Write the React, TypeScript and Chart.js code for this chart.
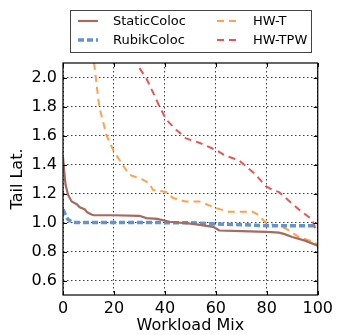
import React, { useEffect, useRef } from "react";
import { Chart, registerables } from "chart.js";

Chart.register(...registerables);

const seriesNames = ["StaticColoc", "RubikColoc", "HW-T", "HW-TPW"];

const staticX = [0, 0.5, 1, 2, 3.4, 4.5, 5.5, 6.6, 8.6, 9.5, 11.2, 12, 20, 30, 32.7, 37, 41.8, 45, 51, 55, 58.9, 60, 61.3, 70, 80, 84.8, 87, 90, 95, 100];
const staticY = [1.45, 1.35, 1.26, 1.19, 1.145, 1.135, 1.125, 1.105, 1.09, 1.07, 1.055, 1.05, 1.05, 1.046, 1.03, 1.025, 1.005, 1.0, 0.99, 0.98, 0.97, 0.96, 0.945, 0.94, 0.935, 0.93, 0.92, 0.9, 0.875, 0.84];

const rubikX = [0, 1, 2, 3.4, 5, 10, 30, 50, 60, 70, 80, 90, 100];
const rubikY = [1.09, 1.05, 1.02, 1.005, 1.0, 1.0, 1.0, 0.998, 0.99, 0.985, 0.978, 0.977, 0.977];

const hwtX = [12.2, 14.2, 17.1, 19.7, 23.3, 26, 31.4, 33.9, 35.3, 40.5, 43.1, 48, 53.5, 60, 65, 74.4, 76.5, 79.6, 87.4, 92.6, 97.8, 100];
const hwtY = [2.1, 1.8, 1.6, 1.5, 1.4, 1.33, 1.295, 1.27, 1.225, 1.21, 1.17, 1.145, 1.145, 1.1, 1.074, 1.074, 1.055, 1.0, 0.96, 0.9, 0.87, 0.85];

const hwtpwX = [30, 32.7, 37.9, 40.5, 44.4, 48.3, 53.5, 60, 63.9, 69, 71.7, 75.6, 79.6, 82.2, 84.8, 87.4, 92.6, 97.8, 99, 100];
const hwtpwY = [2.065, 1.995, 1.8, 1.71, 1.64, 1.58, 1.55, 1.5, 1.46, 1.43, 1.39, 1.33, 1.25, 1.225, 1.21, 1.17, 1.09, 1.02, 0.96, 0.94];

const xTicks = [0, 20, 40, 60, 80, 100];
const yTicks = [0.6, 0.8, 1.0, 1.2, 1.4, 1.6, 1.8, 2.0];

const colors = ["#a66a5e", "#6094d2", "#ffa24a", "#ec5454"];
const widths = [2.2, 3.5, 2, 2];
const dashes: number[][] = [[], [6, 3], [7, 5], [7, 5]];

const FONT = "'DejaVu Sans', sans-serif";

const zip = (xs: number[], ys: number[]) => xs.map((x, i) => ({ x, y: ys[i] }));

const framePlugin = {
  id: "frame",
  afterDraw(chart: any) {
    const { ctx, chartArea: a, scales } = chart;
    ctx.save();
    ctx.strokeStyle = "#000";
    ctx.lineWidth = 1.2;
    ctx.setLineDash([]);
    ctx.strokeRect(a.left, a.top, a.right - a.left, a.bottom - a.top);
    ctx.lineWidth = 1;
    const tl = 4;
    for (const v of xTicks) {
      const px = Math.round(scales.x.getPixelForValue(v)) + 0.5;
      ctx.beginPath();
      ctx.moveTo(px, a.bottom);
      ctx.lineTo(px, a.bottom - tl);
      ctx.moveTo(px, a.top);
      ctx.lineTo(px, a.top + tl);
      ctx.stroke();
    }
    for (const v of yTicks) {
      const py = Math.round(scales.y.getPixelForValue(v)) + 0.5;
      ctx.beginPath();
      ctx.moveTo(a.left, py);
      ctx.lineTo(a.left + tl, py);
      ctx.moveTo(a.right, py);
      ctx.lineTo(a.right - tl, py);
      ctx.stroke();
    }
    // legend
    const bx = 70.5, by = 10.5, bw = 241, bh = 42;
    ctx.fillStyle = "#fff";
    ctx.fillRect(bx, by, bw, bh);
    ctx.strokeStyle = "#444";
    ctx.lineWidth = 1;
    ctx.strokeRect(bx, by, bw, bh);
    const cols = [{ lx: 78, tx: 113 }, { lx: 217, tx: 253 }];
    const rows = [21, 40];
    ctx.font = "13px " + FONT;
    ctx.textBaseline = "middle";
    ctx.textAlign = "left";
    seriesNames.forEach((name, i) => {
      const c = cols[Math.floor(i / 2)];
      const r = rows[i % 2];
      ctx.strokeStyle = colors[i];
      ctx.lineWidth = widths[i];
      ctx.setLineDash(dashes[i]);
      ctx.beginPath();
      ctx.moveTo(c.lx, r);
      ctx.lineTo(c.lx + 20, r);
      ctx.stroke();
      ctx.setLineDash([]);
      ctx.fillStyle = "#000";
      ctx.fillText(name, c.tx, r + 1);
    });
    ctx.restore();
  },
};

export default function App() {
  const ref = useRef<HTMLCanvasElement | null>(null);
  useEffect(() => {
    if (!ref.current) return;
    const series = [zip(staticX, staticY), zip(rubikX, rubikY), zip(hwtX, hwtY), zip(hwtpwX, hwtpwY)];
    const chart = new Chart(ref.current, {
      type: "line",
      data: {
        datasets: series.map((d, i) => ({
          label: seriesNames[i],
          data: d,
          borderColor: colors[i],
          backgroundColor: colors[i],
          borderWidth: widths[i],
          borderDash: dashes[i],
          pointRadius: 0,
          tension: 0,
          fill: false,
          clip: 0,
        })),
      },
      options: {
        animation: false,
        responsive: false,
        devicePixelRatio: 1,
        layout: { padding: { top: 63, right: 18, left: 0, bottom: 0 } },
        plugins: { legend: { display: false }, tooltip: { enabled: false } },
        scales: {
          x: {
            type: "linear",
            min: 0,
            max: 100,
            afterBuildTicks: (s: any) => {
              s.ticks = xTicks.map((v) => ({ value: v }));
            },
            afterFit: (s: any) => {
              s.height = 40;
            },
            grid: { color: "rgba(0,0,0,0.75)", drawTicks: false, lineWidth: 1 },
            border: { display: false, dash: [1.5, 2.5] },
            ticks: { color: "#000", font: { family: FONT, size: 16 }, padding: 4, maxRotation: 0 },
            title: { display: true, text: "Workload Mix", color: "#000", font: { family: FONT, size: 16 }, padding: { top: 0, bottom: 0 } },
          },
          y: {
            type: "linear",
            min: 0.5,
            max: 2.1,
            afterBuildTicks: (s: any) => {
              s.ticks = yTicks.map((v) => ({ value: v }));
            },
            afterFit: (s: any) => {
              s.width = 63;
            },
            grid: { color: "rgba(0,0,0,0.75)", drawTicks: false, lineWidth: 1 },
            border: { display: false, dash: [1.5, 2.5] },
            ticks: {
              color: "#000",
              font: { family: FONT, size: 16 },
              padding: 6,
              callback: (v: any) => Number(v).toFixed(1),
            },
            title: { display: true, text: "Tail Lat.", color: "#000", font: { family: FONT, size: 16 }, padding: { top: 8, bottom: 0 } },
          },
        },
      } as any,
      plugins: [framePlugin],
    });
    return () => chart.destroy();
  }, []);
  return (
    <div style={{ position: "absolute", left: 0, top: 0, width: 337, height: 335, background: "#fff" }}>
      <canvas ref={ref} width={337} height={335} style={{ display: "block" }} />
    </div>
  );
}
